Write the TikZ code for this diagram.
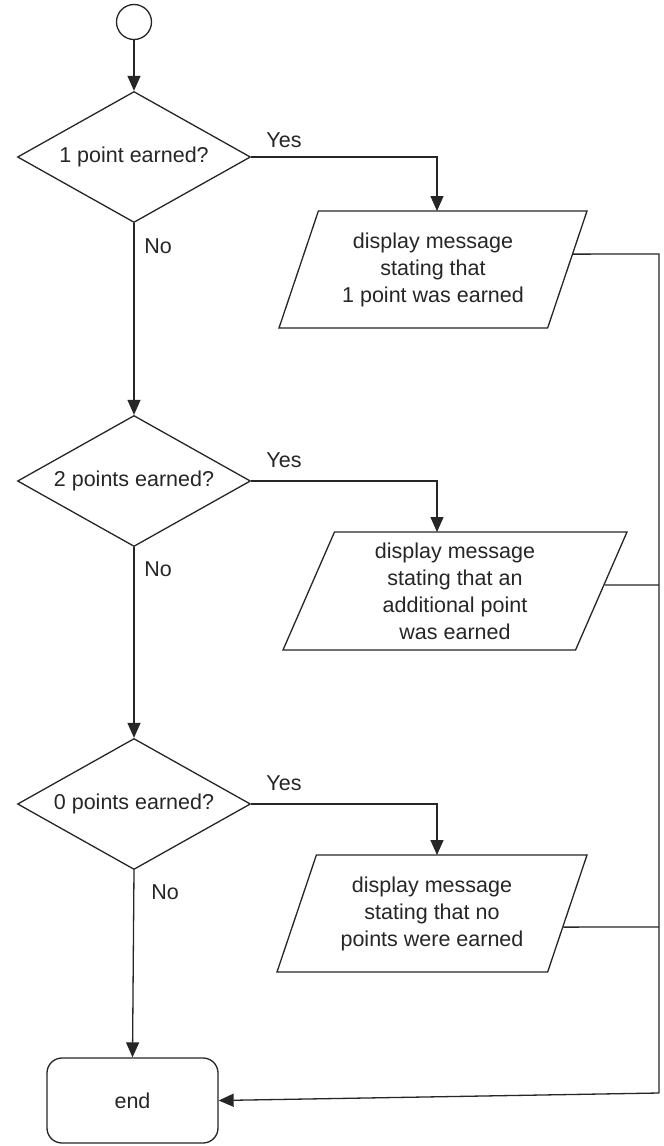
\documentclass[tikz,border=0pt]{standalone}
\usepackage{fontspec}
\setmainfont{Liberation Sans}
\usetikzlibrary{shapes.geometric,arrows.meta,calc}
\begin{document}
\begin{tikzpicture}[x=1pt,y=-1pt,
  line width=1.3pt,
  every node/.style={font=\fontsize{21.5}{27}\selectfont, text=black!85},
  flow/.style={draw=black!85, line width=1.3pt},
  arr/.style={flow, -{Triangle[length=15pt,width=13pt]}},
  decision/.style={flow, shape=diamond, shape aspect=1.78, minimum width=233pt, minimum height=131pt, inner sep=0pt},
  io/.style={flow, shape=trapezium, trapezium left angle=62, trapezium right angle=118,
             trapezium stretches body=true, minimum height=117pt, inner sep=0pt, align=center},
  terminal/.style={flow, rounded corners=15pt, minimum width=171pt, minimum height=85pt},
  lbl/.style={inner sep=0pt}
]
\useasboundingbox (0,0) rectangle (664,1146);
\fill[white] (0,0) rectangle (664,1146);

\node[flow, circle, minimum size=35pt, inner sep=0pt] (start) at (134,22) {};

\node[decision] (d1) at (134,157) {1 point earned?};
\node[decision] (d2) at (134,481) {2 points earned?};
\node[decision] (d3) at (134,804) {0 points earned?};

\node[io, minimum width=308pt] (p1) at (433,269.5) {display message\\stating that\\1 point was earned};
\node[io, minimum width=344pt, minimum height=118pt] (p2) at (455,591) {display message\\stating that an\\additional point\\was earned};
\node[io, minimum width=310pt] (p3) at (432,913.5) {display message\\stating that no\\points were earned};

\node[terminal] (end) at (132.5,1100.5) {end};

% labels
\node[lbl] (y1) at (284,140) {Yes};
\node[lbl] (y2) at (284,460) {Yes};
\node[lbl] (y3) at (284,783) {Yes};
\node[lbl] (n1) at (158,246) {No};
\node[lbl] (n2) at (158,569) {No};
\node[lbl] (n3) at (165,892) {No};

% coordinates
\coordinate (t1) at (437,211);
\coordinate (t2) at (437,532);
\coordinate (t3) at (437,855);
\coordinate (r1) at ($(p1.top right corner)!0.37!(p1.bottom right corner)$);
\coordinate (r2) at ($(p2.top right corner)!0.45!(p2.bottom right corner)$);
\coordinate (r3) at ($(p3.top right corner)!0.615!(p3.bottom right corner)$);
\coordinate (v1) at (659,254);
\coordinate (v2) at (659,585);
\coordinate (v3) at (659,927);
\coordinate (vend) at (659,1093);

% main flow
\draw[arr] (start) -- (d1.north);
\draw[arr] (d1.south) -- (d2.north);
\draw[arr] (d2.south) -- (d3.north);
\draw[arr] (d3.south) -- (end.north);

% yes branches
\draw[arr] (d1.east) -| (t1);
\draw[arr] (d2.east) -| (t2);
\draw[arr] (d3.east) -| (t3);

% return lines
\draw[flow] (r1) -- (v1) -- (vend);
\draw[flow] (r2) -- (v2);
\draw[flow] (r3) -- (v3);
\draw[arr] (vend) -- (end.east);
\end{tikzpicture}
\end{document}
